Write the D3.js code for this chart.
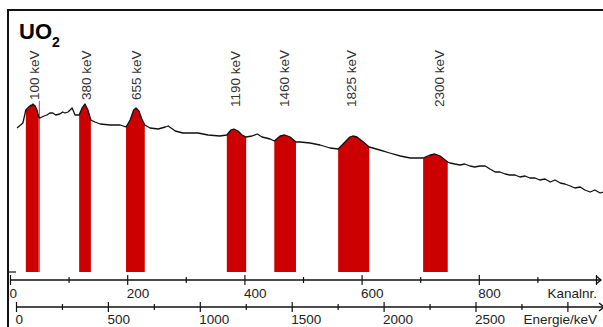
<!DOCTYPE html>
<html>
<head>
<meta charset="utf-8">
<script src="https://cdn.jsdelivr.net/npm/d3@7"></script>
<style>
  body { margin: 0; background: #fff; }
  svg { display: block; font-family: "Liberation Sans", Arial, sans-serif; }
</style>
</head>
<body>
<div id="chart"></div>
<script>
// spectrum: channel number and relative counts
const channels = [12, 22, 27, 32, 36, 37.5, 39, 43, 46, 49, 51, 58, 63, 68, 73, 78, 85, 90, 94, 99,
  106, 111, 118, 123, 128, 133, 138, 145, 154, 171, 188, 198, 205, 211, 215, 220, 225, 230,
  239, 253, 265, 270, 282, 295, 307, 321, 338, 358, 370, 377, 382, 389, 396, 403, 413, 422,
  430, 444, 451, 461, 469, 478, 488, 495, 512, 529, 546, 560, 570, 580, 585, 592, 601, 613,
  631, 648, 666, 683, 705, 717, 725, 734, 747, 751, 759, 768, 776, 785, 793, 802, 811, 819,
  828, 836, 845, 853, 862, 870, 879, 887, 896, 904, 913, 922, 930, 939, 947, 956, 964, 973,
  981, 990, 998, 1007, 1012];
const counts = [144, 149, 162, 165, 167, 166, 168, 166, 162, 155, 154, 156, 157, 159, 159, 157, 158, 160, 159, 160,
  164, 157, 157, 164, 168, 162, 152, 150, 148, 147, 147, 145, 152, 162, 164, 161, 153, 147,
  144, 143, 145, 146, 141, 139, 139, 139, 137, 136, 137, 142, 143, 141, 137, 135, 136, 138,
  135, 133, 131, 136, 137, 135, 130, 130, 129, 127, 124, 123, 129, 135, 136, 135, 131, 125,
  122, 119, 116, 114, 114, 117, 118, 116, 110, 109, 108, 107, 108, 106, 105, 106, 106, 103,
  100, 100, 98, 97, 97, 95, 96, 94, 94, 92, 93, 90, 92, 89, 88, 86, 84, 85,
  82, 80, 82, 79, 80];

const peakEnergies = [100, 380, 655, 1190, 1460, 1825, 2300];
const peakWindows = [[27, 49], [118, 138], [198, 230], [370, 403], [451, 488], [560, 613], [705, 747]];
const markerChannel = 50;
const markerCount = 171;

const channelTicks = [0, 100, 200, 300, 400, 500, 600, 700, 800, 900, 1000];
const channelLabels = [0, 200, 400, 600, 800];
const energyTicks = [0, 250, 500, 750, 1000, 1250, 1500, 1750, 2000, 2250, 2500, 2750, 3000];
const energyLabels = [0, 500, 1000, 1500, 2000, 2500];

const width = 603, height = 327;

const x = d3.scaleLinear().domain([0, 1000]).range([10, 596]);
const xE = d3.scaleLinear().domain([0, 3000]).range([16, 567.4]);
const y = d3.scaleLinear().domain([0, 260]).range([272, 12]);

const spectrum = channels.map((c, i) => ({ ch: c, n: counts[i] }));
const bis = d3.bisector(d => d.ch).left;
function countAt(c) {
  const i = Math.max(1, bis(spectrum, c));
  const a = spectrum[i - 1], b = spectrum[i];
  return a.n + (b.n - a.n) * (c - a.ch) / (b.ch - a.ch);
}

const svg = d3.select("#chart").append("svg")
  .attr("width", width)
  .attr("height", height);

// peak windows filled red
const area = d3.area().x(d => x(d.ch)).y0(y(0)).y1(d => y(d.n));
svg.append("g")
  .selectAll("path")
  .data(peakWindows)
  .join("path")
  .attr("fill", "#cc0000")
  .attr("d", ([c0, c1]) => area([{ ch: c0, n: countAt(c0) }]
    .concat(spectrum.filter(d => d.ch > c0 && d.ch < c1))
    .concat([{ ch: c1, n: countAt(c1) }])));

svg.append("line")
  .attr("x1", x(markerChannel)).attr("x2", x(markerChannel))
  .attr("y1", y(0)).attr("y2", y(markerCount))
  .attr("stroke", "#e03030").attr("stroke-width", 1);

// spectrum line
svg.append("path")
  .datum(spectrum)
  .attr("fill", "none")
  .attr("stroke", "#111")
  .attr("stroke-width", 1.3)
  .attr("stroke-linejoin", "round")
  .attr("d", d3.line().x(d => x(d.ch)).y(d => y(d.n)));

// peak labels
svg.append("g")
  .attr("font-size", 13.5)
  .attr("fill", "#333")
  .selectAll("text")
  .data(peakEnergies)
  .join("text")
  .attr("transform", d => `translate(${xE(d) + 5},${d < 1000 ? 100 : 107}) rotate(-90)`)
  .text(d => `${d} keV`);

// frame
svg.append("path")
  .attr("d", `M8,${height}V10H${width}`)
  .attr("fill", "none")
  .attr("stroke", "#111")
  .attr("stroke-width", 2);

svg.append("line")
  .attr("x1", 9).attr("x2", 16)
  .attr("y1", y(0)).attr("y2", y(0))
  .attr("stroke", "#111").attr("stroke-width", 1.2);

// title
const title = svg.append("text")
  .attr("x", 19).attr("y", 39)
  .attr("font-weight", "bold")
  .attr("font-size", 22)
  .attr("fill", "#000");
title.append("tspan").text("UO");
title.append("tspan").attr("font-size", 14).attr("dy", 8).text("2");

// axes
function drawAxis(scale, ticks, labels, yPos, x0, xEnd, name, labelY) {
  const g = svg.append("g")
    .attr("transform", `translate(0,${yPos})`)
    .call(d3.axisBottom(scale)
      .tickValues(ticks)
      .tickSizeOuter(0)
      .tickFormat(d => labels.includes(d) ? d : ""));
  g.select(".domain").remove();
  g.selectAll(".tick line")
    .attr("stroke", "#111")
    .attr("stroke-width", 1.2)
    .attr("y1", (d, i) => i % 2 === 0 ? -5 : -3)
    .attr("y2", (d, i) => i % 2 === 0 ? 5 : 3);
  g.selectAll(".tick text")
    .attr("fill", "#222")
    .attr("font-size", 13.5)
    .attr("font-family", "Liberation Sans, Arial, sans-serif")
    .attr("text-anchor", "start")
    .attr("x", -1)
    .attr("y", labelY)
    .attr("dy", 0);
  g.append("line")
    .attr("x1", x0).attr("x2", xEnd)
    .attr("stroke", "#111").attr("stroke-width", 1.3);
  g.append("path")
    .attr("d", `M${xEnd - 5},-4L${xEnd},0L${xEnd - 5},4`)
    .attr("fill", "none").attr("stroke", "#111").attr("stroke-width", 1.3);
  g.append("text")
    .attr("x", 597).attr("y", labelY)
    .attr("text-anchor", "end")
    .attr("font-size", 13.5)
    .attr("fill", "#222")
    .text(name);
}

drawAxis(x, channelTicks, channelLabels, 280, 10, 601, "Kanalnr.", 18);
drawAxis(xE, energyTicks, energyLabels, 307, 16, 604, "Energie/keV", 17);
</script>
</body>
</html>
